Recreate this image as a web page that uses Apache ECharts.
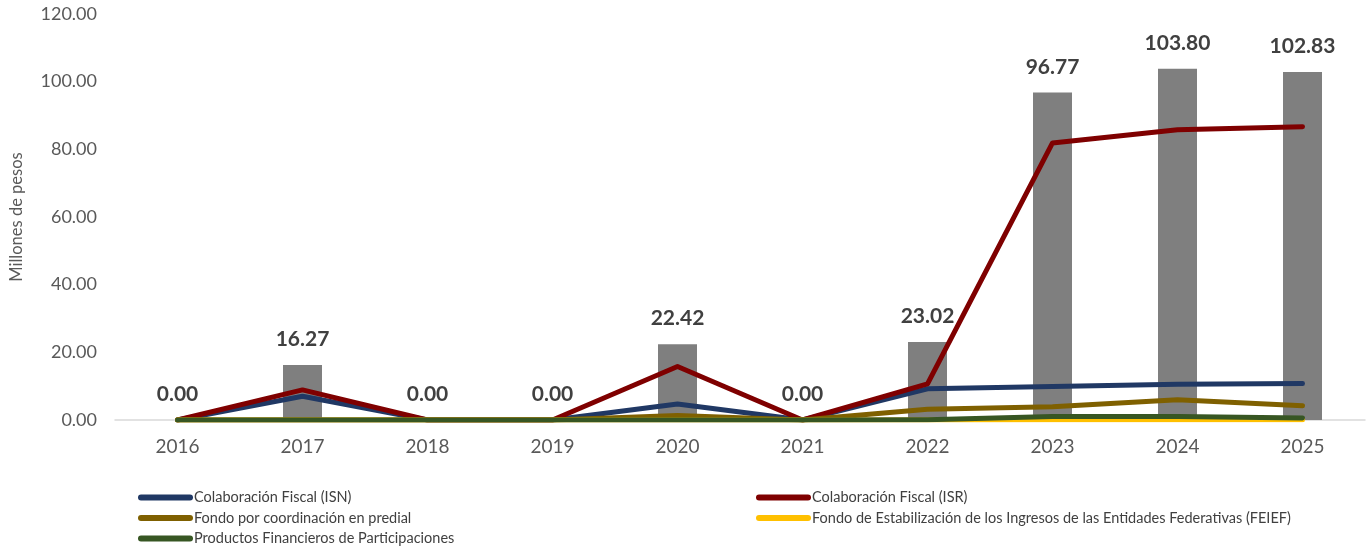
<!DOCTYPE html>
<html><head><meta charset="utf-8">
<script src="https://cdn.jsdelivr.net/npm/echarts@6/dist/echarts.min.js"></script>
<style>html,body{margin:0;padding:0;background:#fff}#c{width:1370px;height:546px}</style>
</head><body><div id="c"></div>
<script>
const years = ['2016','2017','2018','2019','2020','2021','2022','2023','2024','2025'];
const totals = [0, 16.27, 0, 0, 22.42, 0, 23.02, 96.77, 103.80, 102.83];
const isn = [0, 7.0, 0, 0, 4.7, 0, 9.2, 9.9, 10.6, 10.8];
const isr = [0, 8.9, 0, 0, 15.8, 0, 10.7, 81.9, 85.8, 86.7];
const predial = [0, 0, 0, 0, 1.3, 0, 3.2, 3.9, 6.0, 4.2];
const feief = [0, 0, 0, 0, 0, 0, 0, 0.1, 0.1, 0.1];
const productos = [0, 0, 0, 0, 0, 0, 0.1, 1.0, 1.0, 0.6];
const yTicks = [0, 20, 40, 60, 80, 100, 120];

const names = ['Colaboración Fiscal (ISN)','Colaboración Fiscal (ISR)','Fondo por coordinación en predial','Fondo de Estabilización de los Ingresos de las Entidades Federativas (FEIEF)','Productos Financieros de Participaciones'];
const colors = ['#203864','#7F0000','#7F6000','#FFC000','#375623'];
const lineData = [isn, isr, predial, feief, productos];

const font = 'Lato, "Open Sans", sans-serif';
const capsule = 'path://M3,0H52A3,3 0 0 1 52,6H3A3,3 0 0 1 3,0Z';
const legendBase = {
  orient: 'vertical', icon: capsule, itemWidth: 55, itemHeight: 6, itemGap: 5.5, height: 70,
  textStyle: {fontFamily: font, fontSize: 14.5, color: '#404040', padding: [0,0,0,-4], lineHeight: 15}
};

const chart = echarts.init(document.getElementById('c'));
chart.setOption({
  animation: false,
  grid: {left: 111, right: 5, top: 14, bottom: 126},
  legend: [
    Object.assign({left: 133, top: 485, data: [names[0], names[2], names[4]]}, legendBase),
    Object.assign({left: 751, top: 485, data: [names[1], names[3]]}, legendBase)
  ],
  xAxis: {
    type: 'category', data: years,
    axisLine: {lineStyle: {color: '#D9D9D9', width: 1.5}},
    axisTick: {show: false},
    axisLabel: {fontFamily: font, fontSize: 19, color: '#595959', margin: 17}
  },
  yAxis: {
    type: 'value', min: 0, max: 120, interval: 20,
    name: 'Millones de pesos', nameLocation: 'middle', nameRotate: 90, nameGap: 90,
    nameTextStyle: {fontFamily: font, fontSize: 16.5, color: '#595959'},
    axisLine: {show: false}, axisTick: {show: false}, splitLine: {show: false},
    axisLabel: {fontFamily: font, fontSize: 18, color: '#595959', margin: 18,
      formatter: v => yTicks.includes(v) ? v.toFixed(2) : ''}
  },
  series: [
    {
      name: 'Total', type: 'bar', data: totals, barWidth: 39,
      itemStyle: {color: '#7F7F7F'},
      label: {show: true, position: 'top', distance: 15, fontFamily: font, fontSize: 21, fontWeight: 'bold', color: '#404040',
        formatter: p => p.value.toFixed(2)},
      z: 1
    }
  ].concat(lineData.map((d, i) => ({
    name: names[i], type: 'line', data: d, showSymbol: false, symbol: 'none',
    lineStyle: {color: colors[i], width: 5, cap: 'round', join: 'round'},
    itemStyle: {color: colors[i]}, z: 2 + i
  })))
});
</script></body></html>
